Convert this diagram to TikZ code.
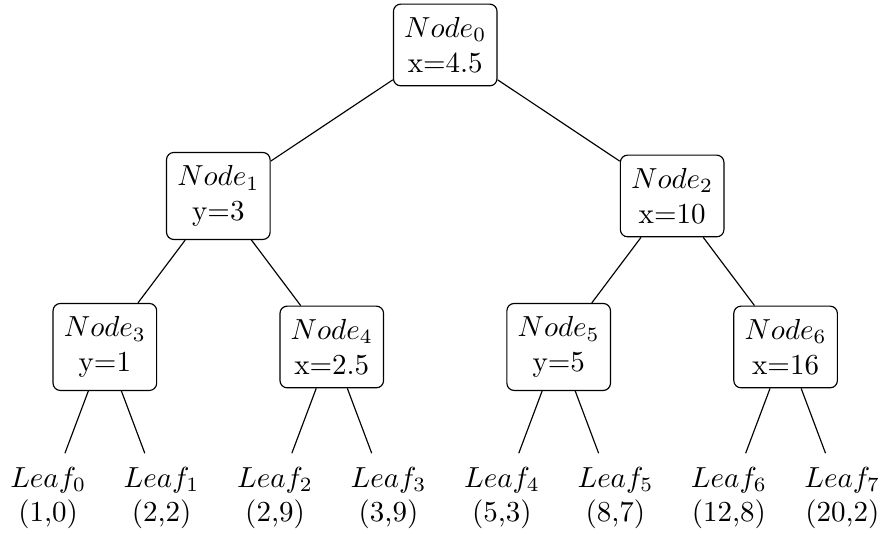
\documentclass[tikz,border=0pt]{standalone}
\begin{document}
\begin{tikzpicture}[
		splitnode/.style={draw, rounded corners=2.5pt, align=center, inner xsep=3.7pt, inner ysep=4.5pt},
		leafnode/.style={align=center, inner sep=4.5pt}]
		% 画布边界（与原图比例一致）
		\useasboundingbox (-5.396,-5.915) rectangle (5.281,0.545);

		% 根结点与第一层
		\node[splitnode] (n0) at (0,0) {$Node_0$\\x=4.5};
		\node[splitnode] (n1) at (-2.75,-1.83) {$Node_1$\\y=3};
		\node[splitnode] (n2) at (2.75,-1.83) {$Node_2$\\x=10};
		% 第二层：n3..n6，间距 2.75
		\foreach \i/\lab [count=\k from 0] in {3/y=1,4/x=2.5,5/y=5,6/x=16}
			\node[splitnode] (n\i) at (-4.125+\k*2.75, -3.66) {$Node_\i$\\\lab};
		% 叶子：l0..l7，间距 1.375
		\foreach \i/\pt in {0/{(1,0)},1/{(2,2)},2/{(2,9)},3/{(3,9)},4/{(5,3)},5/{(8,7)},6/{(12,8)},7/{(20,2)}}
			\node[leafnode] (l\i) at (-4.8125+\i*1.375, -5.49) {$Leaf_\i$\\\pt};

		% 连线
		\draw (n0) -- (n1);
		\draw (n0) -- (n2);
		\foreach \p/\c in {1/3,1/4,2/5,2/6}
			\draw (n\p) -- (n\c);
		\foreach \p/\a/\b in {3/0/1,4/2/3,5/4/5,6/6/7} {
			\draw (n\p) -- (l\a);
			\draw (n\p) -- (l\b);
		}
	\end{tikzpicture}
\end{document}
